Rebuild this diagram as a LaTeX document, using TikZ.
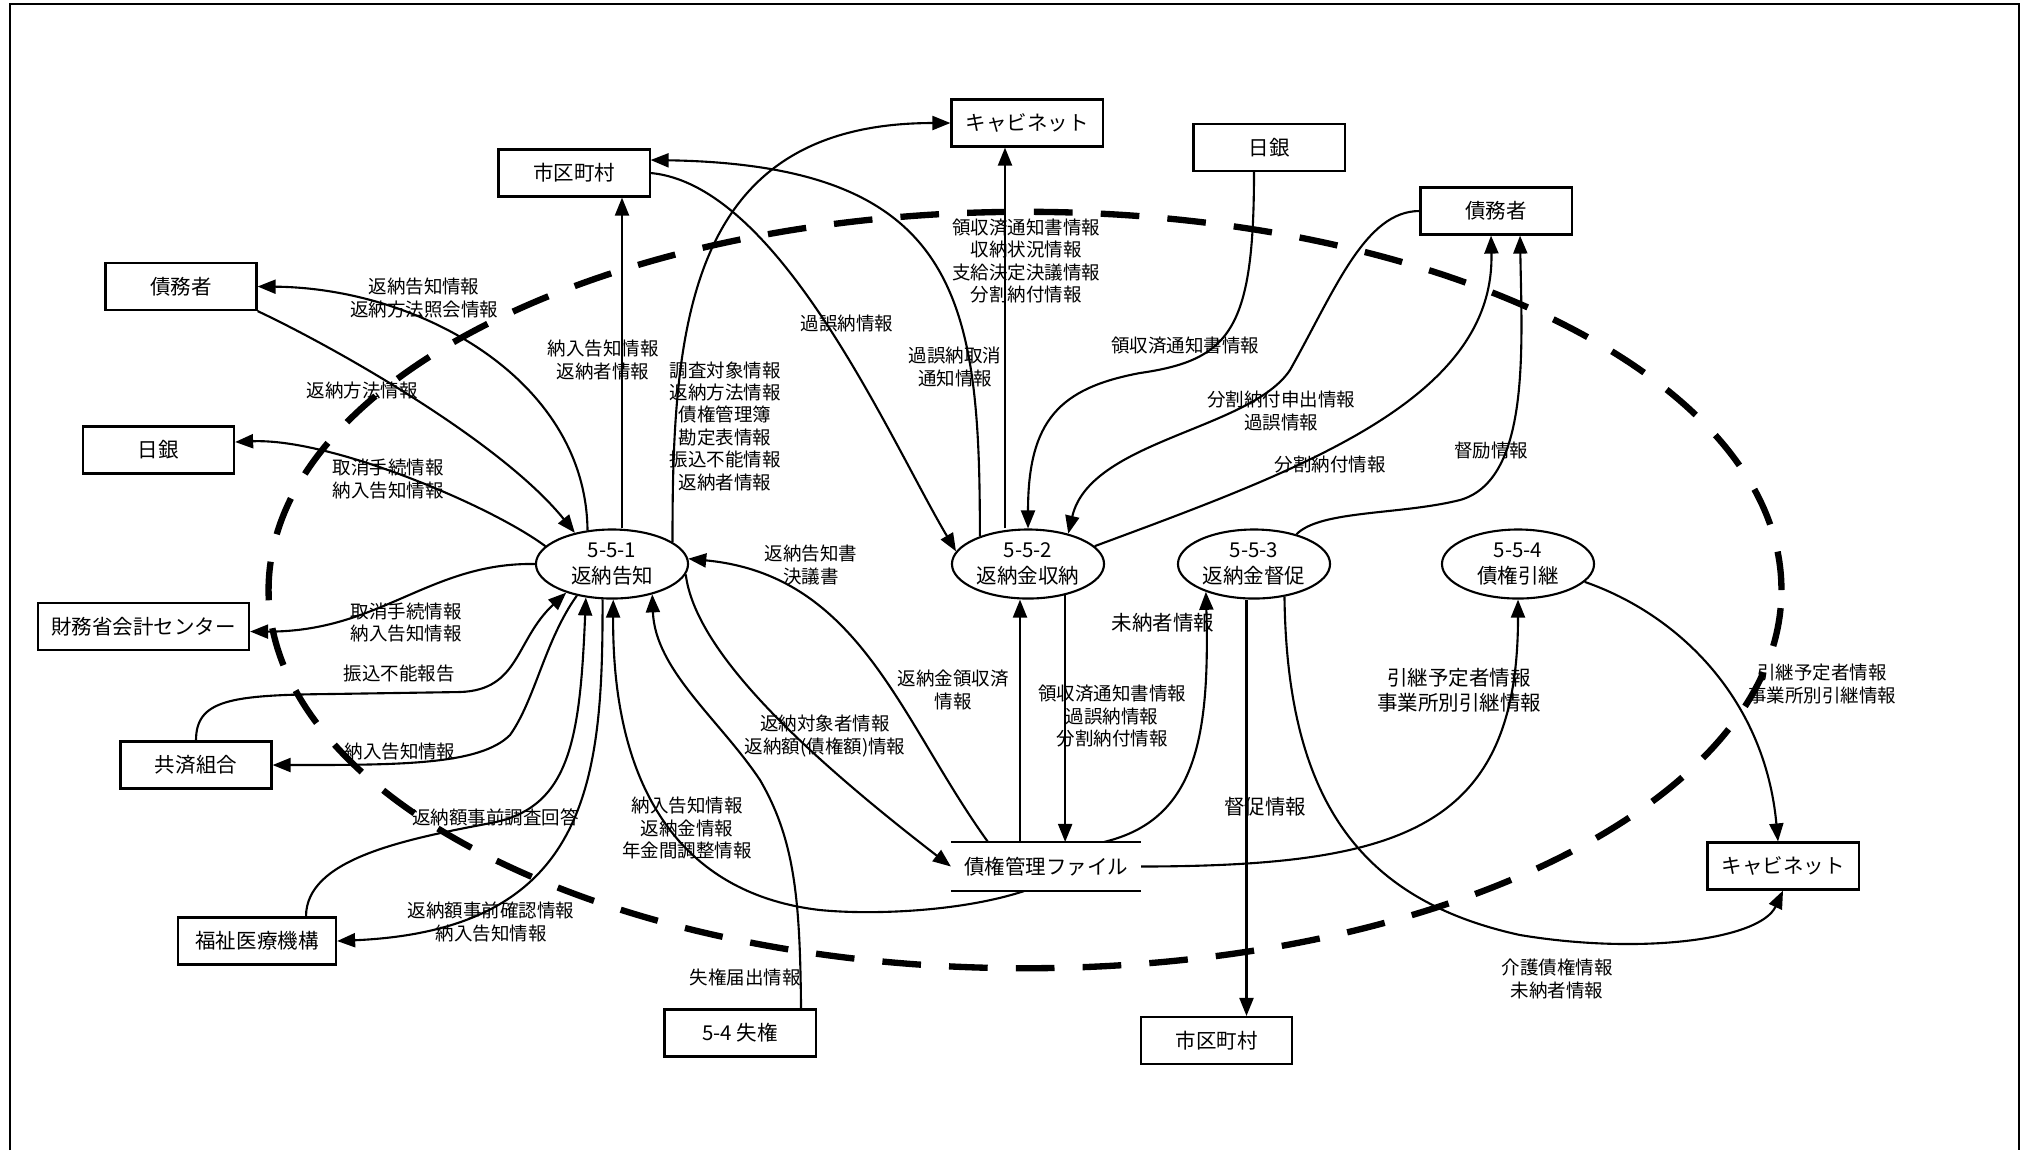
\documentclass[tikz,border=0pt]{standalone}
\usepackage{fontspec}
\setmainfont{Noto Sans CJK JP}
\usetikzlibrary{arrows.meta,shapes.geometric}

\begin{document}
\begin{tikzpicture}[x=0.01cm, y=-0.01cm,
    ent/.style={draw, line width=0.6pt, minimum width=1.51cm, minimum height=0.47cm, inner sep=0pt, font=\fontsize{5.83}{7.25}\selectfont},
    proc/.style={draw, ellipse, line width=0.6pt, minimum width=1.52cm, minimum height=0.69cm, inner sep=0pt, align=center, font=\fontsize{5.83}{7.25}\selectfont},
    flow/.style={line width=0.6pt, -{Triangle[length=0.18cm, width=0.14cm]}},
    lbl/.style={align=center, inner sep=0pt, font=\fontsize{5.26}{6.37}\selectfont},
    biglbl/.style={lbl, font=\fontsize{5.83}{7.25}\selectfont}]
    \useasboundingbox (0,0) rectangle (2031,1150);
    \draw [line width=0.6pt] (10,1150) -- (10,4) -- (2019,4) -- (2019,1150);
    \draw [line width=1.8pt, dash pattern=on 11pt off 8pt] (1025,590) ellipse [x radius=7.56cm, y radius=3.78cm];
%
    \node [ent] (cabTop) at (1027,123) {キャビネット};
    \node [ent] (cityTop) at (574,173) {市区町村};
    \node [ent] (bojTop) at (1269,147.5) {日銀};
    \node [ent] (debtR) at (1496,211) {債務者};
    \node [ent] (debtL) at (181,286.5) {債務者};
    \node [ent] (bojL) at (158.5,450) {日銀};
    \node [ent, minimum width=2.11cm] (mof) at (143.5,626.5) {財務省会計センター};
    \node [ent] (kyosai) at (196,765) {共済組合};
    \node [ent, minimum width=1.58cm] (wam) at (257,941) {福祉医療機構};
    \node [ent] (lost) at (740,1033) {5-4 失権};
    \node [ent] (cityBot) at (1216.5,1040.5) {市区町村};
    \node [ent] (cabR) at (1783,866) {キャビネット};
%
    \node [proc] (p1) at (612,564) {5-5-1\\返納告知};
    \node [proc] (p2) at (1028,564) {5-5-2\\返納金収納};
    \node [proc] (p3) at (1254,564) {5-5-3\\返納金督促};
    \node [proc] (p4) at (1518,564) {5-5-4\\債権引継};
%
    \node [ent, draw=none, minimum width=1.88cm] (file) at (1046,866.5) {債権管理ファイル};
    \draw [line width=0.6pt] (file.north west) -- (file.north east) (file.south west) -- (file.south east);
%
    \coordinate (a1) at ([xshift=0.1cm]p1.north);
    \draw [flow] (a1) -- (a1 |- cityTop.south);
    \draw [flow] (p1.126) .. controls (586,380) and (420,288) .. (debtL.east);
    \draw [flow] (debtL.south east) .. controls (330,345) and (500,440) .. (p1.140);
    \draw [flow] (p1.165) .. controls (490,505) and (330,438) .. ([yshift=0.08cm]bojL.east);
    \draw [flow] (p1.west) .. controls (430,562) and (380,632) .. ([yshift=-0.05cm]mof.east);
    \draw [flow] (kyosai.north) .. controls (196,700) and (230,695) .. (330,694) -- (460,692) .. controls (520,690) and (515,640) .. (p1.212);
    \draw [flow] (p1.222) .. controls (545,640) and (535,700) .. (510,735) .. controls (480,765) and (400,765) .. (kyosai.east);
    \draw [flow] ([xshift=0.49cm]wam.north) .. controls (306,860) and (400,840) .. (491,823) .. controls (570,808) and (580,740) .. (p1.232);
    \draw [flow] (p1.255) .. controls (603,780) and (590,930) .. (wam.east);
    \draw [flow] ([xshift=-0.22cm]file.south) .. controls (960,912) and (870,915) .. (820,910) .. controls (690,895) and (612,800) .. (p1.272);
    \draw [flow] ([xshift=0.61cm]lost.north) .. controls (800,900) and (795,840) .. (760,780) .. controls (720,720) and (655,670) .. (p1.323);
    \draw [flow] (p1.352) .. controls (695,650) and (800,750) .. (file.west);
    \draw [flow] ([xshift=-0.58cm]file.north) .. controls (900,720) and (860,575) .. (p1.4);
    \draw [flow] (p1.20) .. controls (672,320) and (690,123) .. (cabTop.west);
%
    \draw [flow] (cityTop.east) .. controls (780,185) and (890,440) .. (p2.170);
    \draw [flow] (p2.150) .. controls (980,300) and (960,165) .. ([yshift=0.13cm]cityTop.east);
    \coordinate (q1) at ([xshift=-0.23cm]p2.north);
    \draw [flow] (q1) -- (q1 |- cabTop.south);
    \draw [flow] ([xshift=-0.15cm]bojTop.south) .. controls (1254,330) and (1230,360) .. (1140,373) .. controls (1060,388) and (1028,420) .. (p2.north);
    \draw [flow] (debtR.west) .. controls (1365,211) and (1335,290) .. (1290,370) .. controls (1250,430) and (1090,440) .. (p2.37);
    \draw [flow] (p2.15) .. controls (1300,470) and (1495,400) .. ([xshift=-0.05cm]debtR.south);
    \coordinate (v1) at ([xshift=-0.08cm]p2.south);
    \draw [flow] (v1 |- file.north) -- (v1);
    \draw [flow] (p2.320) -- (p2.320 |- file.north);
%
    \draw [flow] (p3.35) .. controls (1320,510) and (1400,515) .. (1460,500) .. controls (1530,480) and (1522,350) .. ([xshift=0.24cm]debtR.south);
    \draw [flow] ([xshift=0.58cm]file.north) .. controls (1195,820) and (1210,740) .. (p3.210);
    \coordinate (y1) at ([xshift=-0.075cm]p3.south);
    \draw [flow] (y1) -- (y1 |- cityBot.north);
    \draw [flow] (p3.313) .. controls (1287,800) and (1360,900) .. (1520,935) .. controls (1640,955) and (1760,940) .. (cabR.south);
    \draw [flow] (file.east) .. controls (1400,866) and (1518,830) .. (p4.south);
    \draw [flow] (p4.345) .. controls (1680,615) and (1765,700) .. ([xshift=-0.05cm]cabR.north);
%
    \node [lbl] (lbA) at (603,360) {納入告知情報\\返納者情報};
    \node [lbl] (lbB) at (424,298) {返納告知情報\\返納方法照会情報};
    \node [lbl] (lbC) at (362,390) {返納方法情報};
    \node [lbl] (lbD) at (388,479) {取消手続情報\\納入告知情報};
    \node [lbl] (lbE) at (406,622.5) {取消手続情報\\納入告知情報};
    \node [lbl] (lbF) at (399,674) {振込不能報告};
    \node [lbl] (lbG) at (400,752) {納入告知情報};
    \node [lbl] (lbH) at (495.5,817) {返納額事前調査回答};
    \node [lbl] (lbI) at (491,922) {返納額事前確認情報\\納入告知情報};
    \node [lbl] (lbJ) at (687,828) {納入告知情報\\返納金情報\\年金間調整情報};
    \node [lbl] (lbK) at (745,977) {失権届出情報};
    \node [lbl] (lbL) at (825,736) {返納対象者情報\\返納額(債権額)情報};
    \node [lbl] (lbM) at (811,565) {返納告知書\\決議書};
    \node [lbl] (lbN) at (725,426) {調査対象情報\\返納方法情報\\債権管理簿\\勘定表情報\\振込不能情報\\返納者情報};
    \node [lbl] (lbO) at (847,323) {過誤納情報};
    \node [lbl] (lbP) at (955,367) {過誤納取消\\通知情報};
    \node [lbl] (lbQ) at (1026,261) {領収済通知書情報\\収納状況情報\\支給決定決議情報\\分割納付情報};
    \node [lbl] (lbR) at (1185,346) {領収済通知書情報};
    \node [lbl] (lbS) at (1281,411) {分割納付申出情報\\過誤情報};
    \node [lbl] (lbT) at (1330,464) {分割納付情報};
    \node [lbl] (lbU) at (1491,450) {督励情報};
    \node [lbl] (lbV) at (953,690) {返納金領収済\\情報};
    \node [lbl] (lbW) at (1112,716) {領収済通知書情報\\過誤納情報\\分割納付情報};
    \node [biglbl] (lbX) at (1163,623) {未納者情報};
    \node [biglbl] (lbY) at (1265,807) {督促情報};
    \node [lbl] (lbZ) at (1557,979) {介護債権情報\\未納者情報};
    \node [biglbl] (lbAA) at (1459,690) {引継予定者情報\\事業所別引継情報};
    \node [lbl] (lbAB) at (1822,684) {引継予定者情報\\事業所別引継情報};
\end{tikzpicture}
\end{document}
